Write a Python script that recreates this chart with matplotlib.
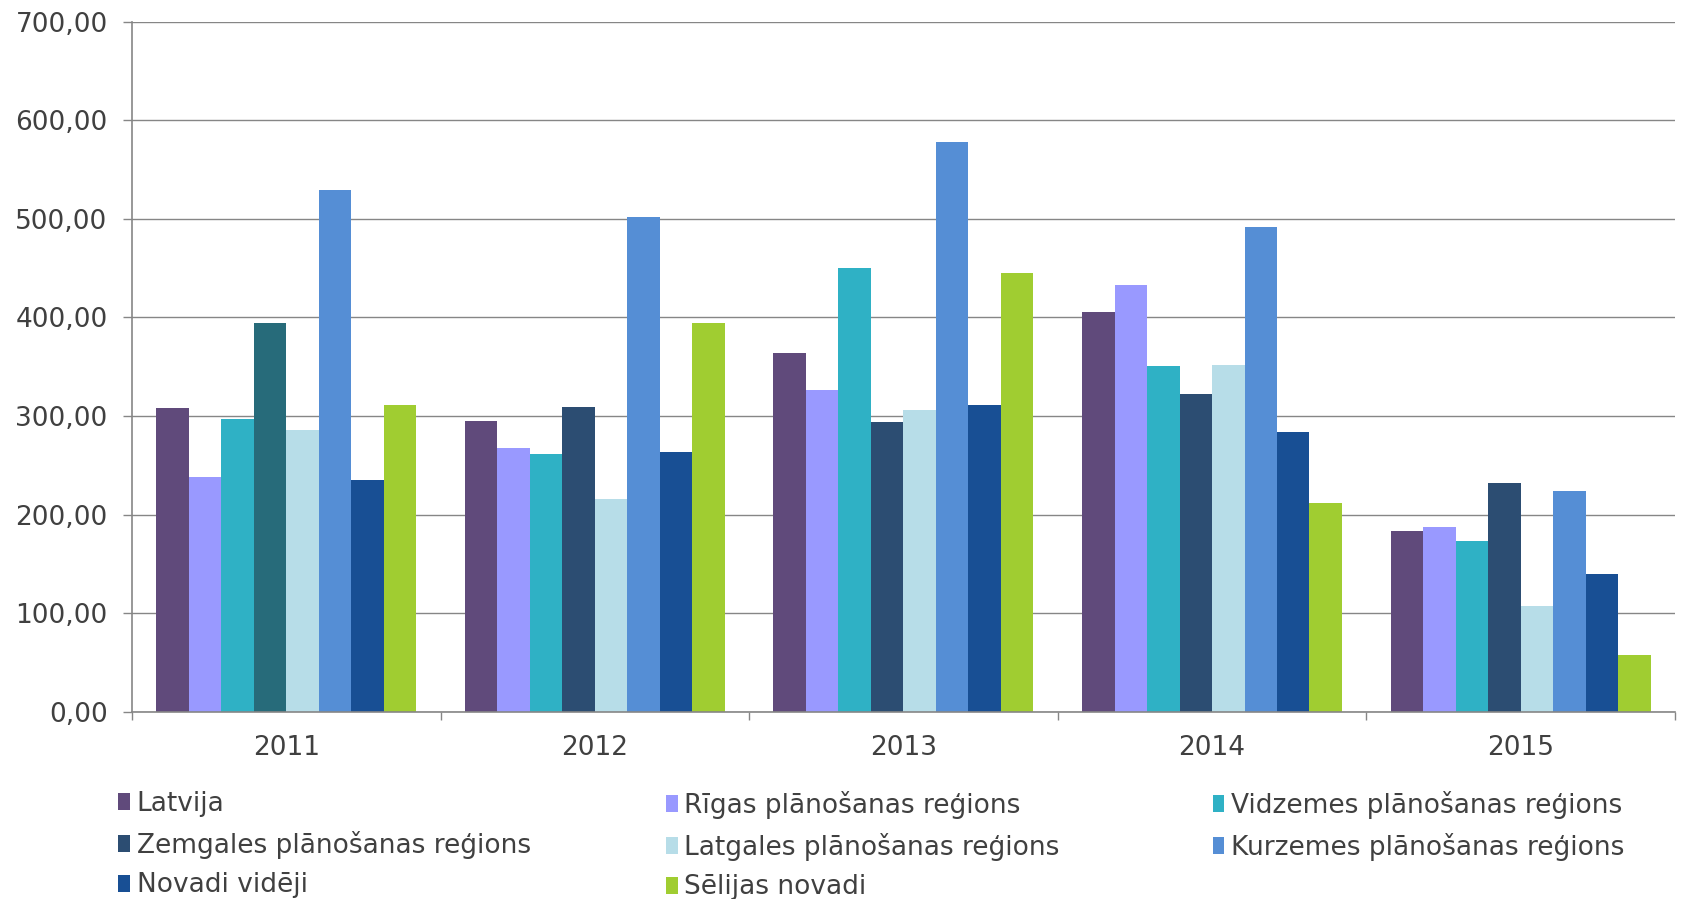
import matplotlib
matplotlib.use("Agg")
import matplotlib.pyplot as plt
from matplotlib.patches import Patch
import numpy as np

plt.rcParams["font.family"] = ["DejaVu Sans"]

years = ["2011", "2012", "2013", "2014", "2015"]
series_names = [
    "Latvija",
    "Rīgas plānošanas reģions",
    "Vidzemes plānošanas reģions",
    "Zemgales plānošanas reģions",
    "Latgales plānošanas reģions",
    "Kurzemes plānošanas reģions",
    "Novadi vidēji",
    "Sēlijas novadi",
]
latvija = [308, 295, 364, 406, 184]
rigas = [238, 268, 326, 433, 188]
vidzemes = [297, 262, 450, 351, 173]
zemgales = [394, 309, 294, 322, 232]
latgales = [286, 216, 306, 352, 107]
kurzemes = [529, 502, 578, 492, 224]
novadi = [235, 264, 311, 284, 140]
selijas = [311, 394, 445, 212, 58]
values = [latvija, rigas, vidzemes, zemgales, latgales, kurzemes, novadi, selijas]
colors = ["#604a7b", "#9999ff", "#2fb1c5", "#2c4d72", "#b7dde8", "#558ed5", "#184f94", "#a0cd31"]
zemgales_2011_color = "#276b7a"
yticks = [0, 100, 200, 300, 400, 500, 600, 700]
ytick_labels = ["0,00", "100,00", "200,00", "300,00", "400,00", "500,00", "600,00", "700,00"]

text_color = "#404040"
grid_color = "#868686"
fs = 19

fig = plt.figure(figsize=(16.83, 8.99), dpi=100)
ax = fig.add_axes([0.0784, 0.208, 0.9168, 0.768])

x = np.arange(len(years))
n = len(series_names)
w = 1.0 / 9.5
bars = []
for i, (vals, c) in enumerate(zip(values, colors)):
    b = ax.bar(x + (i - (n - 1) / 2) * w, vals, width=w, color=c, linewidth=0, zorder=3)
    bars.append(b)
bars[3][0].set_facecolor(zemgales_2011_color)

ax.set_ylim(0, 700)
ax.set_xlim(-0.5, len(years) - 0.5)
ax.set_yticks(yticks)
ax.set_yticklabels(ytick_labels)
ax.set_xticks(np.arange(-0.5, len(years), 1.0))
ax.set_xticklabels([])
ax.set_xticks(x, minor=True)
ax.set_xticklabels(years, minor=True)

ax.tick_params(axis="y", which="major", length=6.5, width=1.0, color=grid_color,
               labelsize=fs, labelcolor=text_color, pad=11, direction="out")
ax.tick_params(axis="x", which="major", length=6, width=1.0, color=grid_color, direction="out")
ax.tick_params(axis="x", which="minor", length=0, labelsize=fs, labelcolor=text_color, pad=16.5)

ax.grid(axis="y", color=grid_color, linewidth=1.0, zorder=0)
ax.set_axisbelow(True)
for s in ["top", "right"]:
    ax.spines[s].set_visible(False)
for s in ["left", "bottom"]:
    ax.spines[s].set_color(grid_color)
    ax.spines[s].set_linewidth(1.2)
    ax.spines[s].set_zorder(4)

# legend: three columns, row-major order
col_x = [0.0702, 0.3955, 0.7205]
for col in range(3):
    idx = [i for i in range(n) if i % 3 == col]
    handles = [Patch(facecolor=colors[i], edgecolor="none") for i in idx]
    labels = [series_names[i] for i in idx]
    leg = fig.legend(handles, labels, loc="upper left",
                     bbox_to_anchor=(col_x[col], 1 - 791 / 899),
                     bbox_transform=fig.transFigure, frameon=False, fontsize=fs,
                     handlelength=0.45, handleheight=0.62, handletextpad=0.25,
                     labelspacing=0.52, borderpad=0, borderaxespad=0)
    for t in leg.get_texts():
        t.set_color(text_color)

fig.savefig("out.png", dpi=100, facecolor="white")
